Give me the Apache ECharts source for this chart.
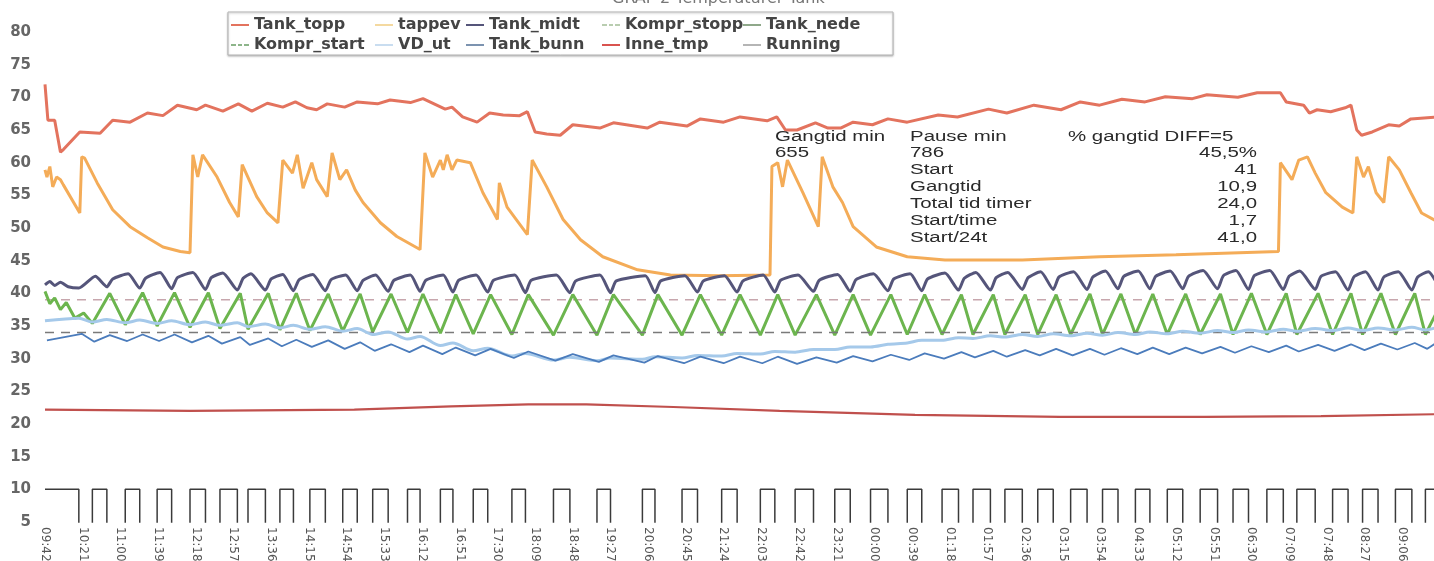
<!DOCTYPE html>
<html><head><meta charset="utf-8">
<script src="https://cdn.jsdelivr.net/npm/echarts@6/dist/echarts.min.js"></script>
<style>html,body{margin:0;padding:0;background:#fff}#c{width:1434px;height:561px}</style>
</head><body><div id="c"></div>
<script>
// ---------- DATA (x = minutes after 09:42, y = °C) ----------
const tickLabels = ['09:42','10:21','11:00','11:39','12:18','12:57','13:36','14:15','14:54','15:33','16:12','16:51','17:30','18:09','18:48','19:27','20:06','20:45','21:24','22:03','22:42','23:21','00:00','00:39','01:18','01:57','02:36','03:15','03:54','04:33','05:12','05:51','06:30','07:09','07:48','08:27','09:06'];

// compressor running periods (minutes)
const runStart = [0,49,83,116,150,181,210,243,274,308,339,375,409,443,483,526,571,618,659,700,740,776,817,854,892,928,960,993,1027,1061,1094,1128,1161,1195,1229,1264,1295,1332,1363,1397,1428];
const runEnd   = [35,64,98,131,166,199,228,257,290,323,355,388,422,458,497,543,585,631,675,716,755,795,833,872,907,945,978,1011,1043,1078,1110,1143,1177,1213,1245,1281,1314,1348,1379,1414,1440];
const runningOn = 10, runningOff = 0;

const tankTopp = [[0,72.0],[3,66.5],[10,66.5],[16,61.6],[19,62.0],[36,64.7],[57,64.5],[70,66.5],[88,66.2],[106,67.6],[122,67.2],[137,68.8],[157,68.1],[166,68.8],[184,67.9],[200,69.0],[214,67.9],[230,69.1],[246,68.5],[259,69.3],[271,68.4],[281,68.1],[292,69.0],[310,68.5],[323,69.3],[344,69.0],[357,69.6],[378,69.2],[391,69.8],[414,68.2],[421,68.5],[432,67.0],[447,66.2],[460,67.6],[474,67.3],[491,67.2],[499,67.8],[507,64.7],[519,64.4],[533,64.2],[546,65.8],[574,65.3],[588,66.1],[623,65.3],[636,66.2],[664,65.6],[678,66.7],[702,66.2],[719,67.0],[747,66.4],[757,67.0],[766,65.0],[778,65.0],[797,66.1],[810,65.3],[823,65.3],[836,66.2],[856,65.8],[872,66.7],[892,66.2],[924,67.3],[944,67.0],[976,68.2],[995,67.6],[1023,68.8],[1051,68.1],[1071,69.3],[1091,68.8],[1114,69.7],[1138,69.3],[1159,70.1],[1187,69.8],[1202,70.4],[1234,70.0],[1254,70.7],[1278,70.7],[1280,70.8],[1284,69.3],[1302,68.8],[1308,67.6],[1316,68.1],[1330,67.8],[1345,68.4],[1351,68.8],[1357,65.0],[1362,64.2],[1373,64.7],[1390,65.8],[1401,65.6],[1413,66.7],[1440,67.0]];

const tappev = [[0,58.9],[2,57.8],[5,59.4],[8,56.3],[12,57.8],[16,57.4],[19,56.6],[36,52.3],[38,60.9],[41,60.7],[54,56.9],[70,52.8],[88,50.2],[106,48.5],[122,47.1],[140,46.4],[150,46.2],[153,61.2],[158,57.8],[163,61.2],[178,57.8],[191,53.9],[200,51.7],[204,59.7],[219,54.8],[230,52.3],[241,50.8],[246,60.4],[256,58.4],[261,61.2],[267,56.1],[276,60.0],[281,57.4],[292,54.8],[297,61.5],[305,57.4],[312,58.9],[321,55.8],[329,53.9],[347,50.8],[364,48.7],[388,46.7],[393,61.5],[401,57.8],[409,60.4],[412,58.9],[416,61.2],[421,58.9],[426,60.4],[440,60.0],[453,55.4],[468,51.3],[470,56.9],[478,53.2],[499,49.0],[504,60.4],[519,56.3],[536,51.3],[554,48.2],[577,45.6],[613,43.6],[647,42.8],[698,42.7],[750,42.8],[752,59.4],[758,60.0],[763,56.3],[768,60.4],[784,55.4],[800,50.2],[804,60.9],[815,56.3],[825,53.9],[836,50.2],[860,47.1],[892,45.6],[931,45.1],[1011,45.1],[1091,45.6],[1170,45.9],[1276,46.4],[1278,60.0],[1290,57.4],[1297,60.4],[1306,60.9],[1314,58.4],[1325,55.4],[1342,53.2],[1353,52.3],[1357,60.9],[1364,57.8],[1369,59.4],[1377,55.4],[1385,53.9],[1390,60.9],[1401,58.9],[1413,55.4],[1424,52.3],[1440,51.0]];

// Tank_midt: start of record, then top near each run start, notch at each run end, shoulder after it (runs 1..40)
const midtHead = [[0,41.3],[5,41.8],[10,41.2],[16,41.7],[24,41.0],[35,40.8]];
const midtHigh = [42.6,43.0,43.2,43.2,43.1,43.0,42.9,42.9,42.8,42.8,42.8,42.8,42.8,42.8,42.8,42.8,42.7,42.7,42.7,42.8,42.8,42.9,43.0,43.0,43.1,43.2,43.2,43.3,43.3,43.4,43.4,43.4,43.5,43.5,43.5,43.4,43.3,43.3,43.3,43.3];
const midtLow  = [41.0,40.8,40.7,40.6,40.5,40.5,40.4,40.4,40.4,40.3,40.3,40.2,40.2,40.1,40.1,40.1,40.1,40.2,40.2,40.2,40.3,40.3,40.4,40.4,40.5,40.5,40.6,40.6,40.6,40.7,40.7,40.7,40.7,40.6,40.6,40.6,40.5,40.5,40.5,41.5];
const midtShoulder = [42.2,42.3,42.4,42.4,42.3,42.2,42.1,42.1,42.0,42.0,42.0,42.0,42.0,42.0,41.9,41.9,41.9,41.9,41.9,42.0,42.0,42.1,42.2,42.2,42.3,42.4,42.4,42.5,42.5,42.6,42.6,42.6,42.7,42.7,42.6,42.6,42.5,42.5,42.5,42.5];

// Tank_nede: start of record, then trough at each run start and peak after each run end (runs 1..40)
const nedeHead = [[0,40.3],[5,38.4],[10,39.3],[16,37.5],[22,38.6],[31,36.2],[40,37.0]];
const nedeLow  = [35.4,35.2,35.0,34.8,34.6,34.5,34.4,34.3,34.2,34.1,34.0,33.9,33.8,33.7,33.6,33.6,33.6,33.6,33.6,33.6,33.6,33.6,33.6,33.7,33.7,33.7,33.7,33.7,33.7,33.7,33.7,33.7,33.7,33.7,33.7,33.7,33.7,33.7,33.7,33.7];
const nedeHigh = [40.0,40.1,40.1,40.1,40.0,40.0,40.0,39.9,39.9,39.9,39.9,39.8,39.8,39.8,39.8,39.8,39.8,39.8,39.8,39.8,39.8,39.8,39.8,39.8,39.8,39.8,39.8,39.8,39.9,39.9,39.9,39.9,39.9,40.0,40.0,40.0,40.0,40.0,40.0,37.2];

// VD_ut and Tank_bunn: value at each run start (low) and run end (high), runs 0..40
const vdLow  = [35.8,35.6,35.5,35.4,35.2,35.1,34.9,34.7,34.5,34.2,33.7,33.0,32.0,31.2,30.4,29.8,29.7,29.9,30.1,30.4,30.7,31.0,31.4,31.8,32.4,32.8,33.1,33.3,33.4,33.5,33.6,33.7,33.8,33.9,34.0,34.1,34.2,34.3,34.3,34.4,34.4];
const vdHigh = [36.2,36.0,35.9,35.8,35.6,35.5,35.3,35.1,34.9,34.6,34.1,33.4,32.4,31.6,30.8,30.2,30.1,30.3,30.5,30.8,31.1,31.4,31.8,32.2,32.8,33.2,33.5,33.7,33.8,33.9,34.0,34.1,34.2,34.3,34.4,34.5,34.6,34.7,34.7,34.8,34.8];
const bunnLow  = [32.8,32.6,32.7,32.7,32.5,32.3,32.1,31.9,31.8,31.5,31.2,31.0,30.7,30.5,30.1,29.7,29.5,29.4,29.3,29.3,29.3,29.2,29.4,29.6,29.8,30.0,30.2,30.3,30.5,30.5,30.6,30.7,30.7,30.8,30.9,31.0,31.1,31.2,31.3,31.4,31.5];
const bunnHigh = [33.8,33.6,33.7,33.7,33.5,33.3,33.1,32.9,32.8,32.5,32.2,32.0,31.7,31.5,31.1,30.7,30.5,30.4,30.3,30.3,30.3,30.2,30.4,30.6,30.8,31.0,31.2,31.3,31.5,31.5,31.6,31.7,31.7,31.8,31.9,32.0,32.1,32.2,32.3,32.4,32.5];

const inneTmp = [[0,22.2],[150,22.0],[320,22.2],[420,22.7],[500,23.0],[560,23.0],[650,22.6],[760,22.0],[900,21.4],[1050,21.1],[1200,21.1],[1320,21.2],[1440,21.5]];
const komprStopp = 39, komprStart = 34;

const tableRows = [
  ['Gangtid min','Pause min','% gangtid DIFF=5'],
  ['655','786','45,5%'],
  ['','Start','41'],
  ['','Gangtid','10,9'],
  ['','Total tid timer','24,0'],
  ['','Start/time','1,7'],
  ['','Start/24t','41,0']
];
const titleText = 'GRAF 2 Temperaturer Tank';

// ---------- BUILD SERIES DATA ----------
const T_MAX = 1440;
function runningData(){
  const d=[];
  for(let i=0;i<runStart.length;i++){
    if(runStart[i]>0) d.push([runStart[i],runningOff]);
    d.push([runStart[i],runningOn]); d.push([runEnd[i],runningOn]);
    if(runEnd[i]<T_MAX) d.push([runEnd[i],runningOff]);
  }
  return d;
}
function midtData(){
  const d=midtHead.slice();
  for(let i=1;i<runStart.length;i++){
    d.push([runStart[i]+3,midtHigh[i-1]]);
    d.push([runEnd[i],midtLow[i-1]]);
    if(i<runStart.length-1) d.push([runEnd[i]+6,midtShoulder[i-1]]);
  }
  return d;
}
function nedeData(){
  const d=nedeHead.slice();
  for(let i=1;i<runStart.length;i++){
    d.push([runStart[i],nedeLow[i-1]]);
    d.push([Math.min(runEnd[i]+3,T_MAX),nedeHigh[i-1]]);
  }
  return d;
}
function pairData(lo,hi,offS,offE){
  const d=[];
  for(let i=0;i<runStart.length;i++){
    d.push([Math.min(runStart[i]+offS,T_MAX),lo[i]]);
    d.push([Math.min(runEnd[i]+offE,T_MAX),hi[i]]);
  }
  return d;
}

const FONT='DejaVu Sans';
const SOLID='path://M0,0H18V2H0Z';
const DASH='path://M0,0H5V2H0ZM7,0H11V2H7ZM13,0H18V2H13Z';
function line(name,data,color,width,extra){
  return Object.assign({name,type:'line',data,symbol:'none',showSymbol:false,
    lineStyle:{color,width},itemStyle:{color},emphasis:{disabled:true},animation:false},extra||{});
}
const series=[
  line('Tank_topp',tankTopp,'#E3735E',3),
  line('tappev',tappev,'#F4AC58',3),
  line('Tank_midt',midtData(),'#55557A',3,{smooth:0.2}),
  line('Kompr_stopp',[[0,komprStopp],[T_MAX,komprStopp]],'#C7A6AD',1.5,{lineStyle:{color:'#C7A6AD',width:1.5,type:[9,7]}}),
  line('Tank_nede',nedeData(),'#6CB54E',3),
  line('Kompr_start',[[0,komprStart],[T_MAX,komprStart]],'#7A7A7A',1.5,{lineStyle:{color:'#7A7A7A',width:1.5,type:[9,7]}}),
  line('VD_ut',pairData(vdLow,vdHigh,0,0),'#A5C9EA',3,{smooth:0.3}),
  line('Tank_bunn',pairData(bunnLow,bunnHigh,2,3),'#4B7CBC',1.8),
  line('Inne_tmp',inneTmp,'#C0504D',2.2),
  line('Running',runningData(),'#3A3A3A',1.5)
];
const legendColor={Tank_topp:'#E3735E',tappev:'#F4D9A0',Tank_midt:'#55557A',Kompr_stopp:'#B9CDB0',Tank_nede:'#8FA88A',
  Kompr_start:'#8DB58A',VD_ut:'#C9DDF0',Tank_bunn:'#7C93B0',Inne_tmp:'#D9534F',Running:'#B5B5B5'};
const dashed={Kompr_stopp:true,Kompr_start:true};

const legendCols=[['Tank_topp','Kompr_start'],['tappev','VD_ut'],['Tank_midt','Tank_bunn'],['Kompr_stopp','Inne_tmp'],['Tank_nede','Running']];
const legendX=[231,375,466,602,743];
const legends=legendCols.map((names,k)=>({
  data:names.map(n=>({name:n,icon:dashed[n]?DASH:SOLID,itemStyle:{color:legendColor[n]}})),
  orient:'vertical', left:legendX[k], top:17, itemWidth:18, itemHeight:2, itemGap:4,
  selectedMode:false, padding:0, z:5,
  textStyle:{fontFamily:FONT,fontWeight:'bold',fontSize:16,color:'#444',lineHeight:14}
}));

const graphics=[{type:'rect',shape:{x:228,y:12,width:665,height:43},
  style:{fill:'#fff',stroke:'#B5B5B5',lineWidth:1,shadowBlur:2,shadowOffsetY:1,shadowColor:'rgba(0,0,0,0.25)'},z:1}];
const rowY=[137,153,170,187,204,221,238];
const colX=[775,910,1068];
tableRows.forEach((row,r)=>{
  row.forEach((txt,c)=>{
    if(!txt) return;
    const right = (c===2 && r>0);
    graphics.push({type:'text',x: right?1257:colX[c], y:rowY[r], scaleX:1.46, z:6,
      style:{text:txt,fill:'#2a2a2a',font:'14px "Liberation Sans", Arial',align:right?'right':'left',verticalAlign:'middle'}});
  });
});
graphics.push({type:'text',x:612,y:-1,z:6,style:{text:titleText,fill:'#777',font:'16px "DejaVu Sans"',align:'left',verticalAlign:'middle'}});

const chart=echarts.init(document.getElementById('c'),null,{renderer:'canvas'});
chart.setOption({
  backgroundColor:'#fff',
  animation:false,
  legend:legends,
  grid:{left:45,top:32,width:1392,height:490,containLabel:false,outerBoundsMode:'none'},
  xAxis:{type:'value',min:0,max:T_MAX,interval:39,
    axisLine:{show:false},axisTick:{show:false},splitLine:{show:false},
    axisLabel:{rotate:-90,margin:5,showMaxLabel:false,color:'#555',fontFamily:FONT,fontSize:12,
      formatter:v=>{const k=Math.round(v/39);return (Math.abs(v-k*39)<0.01 && tickLabels[k])?tickLabels[k]:'';}}},
  yAxis:{type:'value',min:5,max:80,interval:5,
    axisLine:{show:false},axisTick:{show:false},splitLine:{show:false},
    axisLabel:{margin:14,color:'#666',fontFamily:FONT,fontWeight:'bold',fontSize:15}},
  graphic:graphics,
  series
});
</script></body></html>
